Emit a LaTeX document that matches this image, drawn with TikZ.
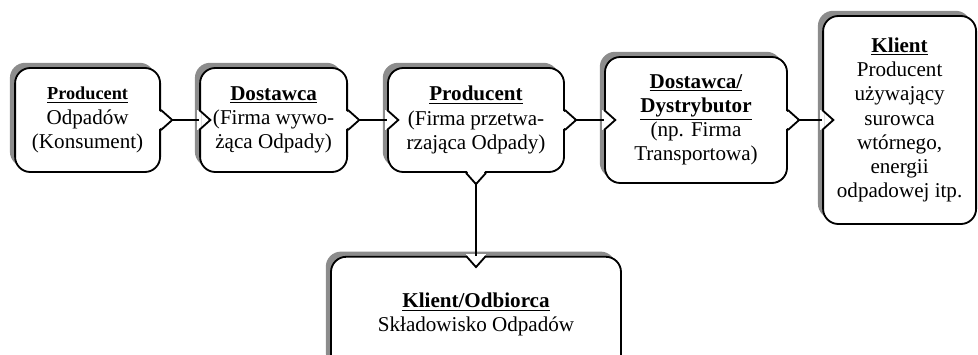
\documentclass[tikz,border=0pt]{standalone}
\usepackage{fontspec}
\setmainfont{Liberation Serif}
\usetikzlibrary{shadows}

\begin{document}
\begin{tikzpicture}[
            stage/.style={
                    draw=black,
                    line width=1.3pt,
                    rectangle,
                    rounded corners=0.38cm,
                    fill=white,
                    align=center,
                    font=\fontsize{15pt}{17.2pt}\selectfont,
                    general shadow={fill=black!45,
                            shadow xshift=-0.13cm, shadow yshift=0.13cm}
                },
            rim/.style={
                    draw=black,
                    line width=1.3pt,
                    line join=miter
                },
            wipe/.style={
                    draw=white,
                    line width=2.6pt
                },
            conn/.style={
                    draw=black,
                    line width=1.2pt
                }
            ]

            \useasboundingbox (0,0) rectangle (24.45,8.85);

            % Ogniwa łańcucha
            \node[stage, minimum width=3.625cm, minimum height=2.6cm]
            (odp) at (2.19,5.85) {
                {\fontsize{13pt}{17.2pt}\selectfont\textbf{\underline{Producent}}} \\
                Odpadów \\ (Konsument)
            };
            \node[stage, minimum width=3.675cm, minimum height=2.6cm]
            (wyw) at (6.84,5.85) {
                \textbf{\underline{Dostawca}} \\
                (Firma wywo- \\ żąca Odpady)
            };
            \node[stage, minimum width=4.4cm, minimum height=2.6cm]
            (prze) at (11.9,5.85) {
                \textbf{\underline{Producent}} \\
                (Firma przetwa- \\ rzająca Odpady)
            };
            \node[stage, minimum width=4.55cm, minimum height=3.15cm]
            (dystr) at (17.4,5.85) {
                \textbf{\underline{Dostawca/}} \\
                \textbf{\underline{Dystrybutor}} \\
                (np. Firma \\ Transportowa)
            };
            \node[stage, minimum width=3.825cm, minimum height=5.2cm]
            (klient) at (22.49,5.85) {
                \textbf{\underline{Klient}} \\
                Producent \\ używający \\ surowca \\ wtórnego, \\
                energii \\ odpadowej itp.
            };

            % Składowisko
            \node[stage, minimum width=7.25cm, minimum height=2.9cm]
            (sklad) at (11.9,0.98) {
                \textbf{\underline{Klient/Odbiorca}} \\
                Składowisko Odpadów
            };

            % Złącza między ogniwami
            \foreach \a/\b in {odp/wyw, wyw/prze, prze/dystr, dystr/klient} {
                    \fill[white] ([shift={(-0.05,0.23)}]\a.east)
                    -- ([xshift=0.25cm]\a.east)
                    -- ([shift={(-0.05,-0.23)}]\a.east) -- cycle;
                    \draw[rim] ([yshift=0.25cm]\a.east)
                    -- ([xshift=0.28cm]\a.east) coordinate (\a tip)
                    -- ([yshift=-0.25cm]\a.east);
                    \draw[wipe] ([yshift=0.24cm]\b.west)
                    -- ([yshift=-0.24cm]\b.west);
                    \draw[rim] ([yshift=0.25cm]\b.west)
                    -- ([xshift=0.28cm]\b.west)
                    -- ([yshift=-0.25cm]\b.west);
                    \draw[conn] (\a tip) -- (\b.west);
                }

            % Złącze w dół
            \fill[white] ([shift={(-0.23,0.05)}]prze.south)
            -- ([yshift=-0.25cm]prze.south)
            -- ([shift={(0.23,0.05)}]prze.south) -- cycle;
            \draw[rim] ([xshift=-0.25cm]prze.south)
            -- ([yshift=-0.28cm]prze.south) coordinate (przetip)
            -- ([xshift=0.25cm]prze.south);
            \draw[wipe] ([xshift=-0.24cm]sklad.north)
            -- ([xshift=0.24cm]sklad.north);
            \draw[rim] ([xshift=-0.25cm]sklad.north)
            -- ([yshift=-0.28cm]sklad.north)
            -- ([xshift=0.25cm]sklad.north);
            \draw[conn] (przetip) -- (sklad.north);

        \end{tikzpicture}
\end{document}
